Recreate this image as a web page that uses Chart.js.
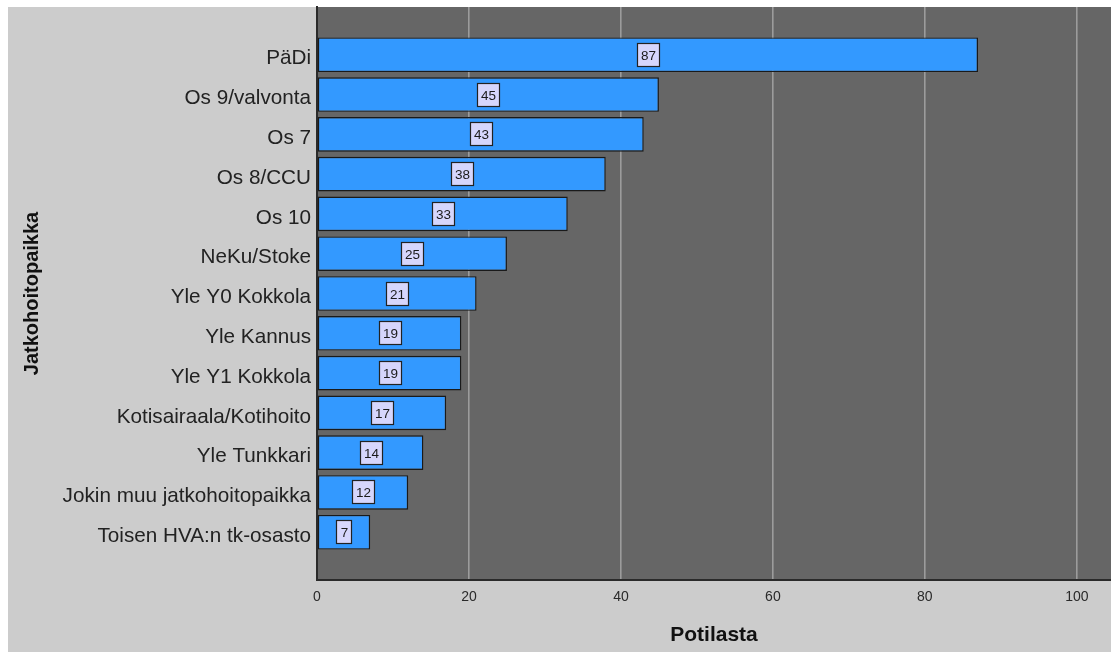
<!DOCTYPE html>
<html>
<head>
<meta charset="utf-8">
<script src="https://cdn.jsdelivr.net/npm/chart.js@4/dist/chart.umd.min.js"></script>
<style>
  html, body { margin: 0; padding: 0; background: #ffffff; }
  #wrap { width: 1111px; height: 652px; position: relative; }
</style>
</head>
<body>
<div id="wrap"><canvas id="c" width="1111" height="652"></canvas></div>
<script>
// Jatkohoitopaikat ja potilasmäärät
const categories = [
  'PäDi', 'Os 9/valvonta', 'Os 7', 'Os 8/CCU', 'Os 10', 'NeKu/Stoke',
  'Yle Y0 Kokkola', 'Yle Kannus', 'Yle Y1 Kokkola', 'Kotisairaala/Kotihoito',
  'Yle Tunkkari', 'Jokin muu jatkohoitopaikka', 'Toisen HVA:n tk-osasto'
];
const patients = [87, 45, 43, 38, 33, 25, 21, 19, 19, 17, 14, 12, 7];
const xTicks = [0, 20, 40, 60, 80, 100];
const xMax = 104.5;
const yTitle = 'Jatkohoitopaikka';
const xTitle = 'Potilasta';

const FONT = '"Liberation Sans", Arial, sans-serif';

// Taustat: harmaa kehys ja tumma piirtoalue
const backgroundPlugin = {
  id: 'backgrounds',
  beforeDraw(chart) {
    const { ctx, chartArea: a } = chart;
    ctx.save();
    ctx.fillStyle = '#ffffff';
    ctx.fillRect(0, 0, chart.width, chart.height);
    ctx.fillStyle = '#cccccc';
    ctx.fillRect(8, 7, chart.width - 8, chart.height - 7);
    ctx.fillStyle = '#666666';
    ctx.fillRect(a.left, a.top, a.right - a.left, a.bottom - a.top);
    ctx.restore();
  }
};

// Arvolaatikot pylväiden keskelle
const valueBoxPlugin = {
  id: 'valueBoxes',
  afterDatasetsDraw(chart) {
    const { ctx } = chart;
    const meta = chart.getDatasetMeta(0);
    ctx.save();
    ctx.font = '13.5px ' + FONT;
    ctx.textAlign = 'center';
    ctx.textBaseline = 'middle';
    meta.data.forEach((bar, i) => {
      const text = String(patients[i]);
      const cx = Math.round((bar.x + bar.base) / 2);
      const cy = Math.round(bar.y);
      const w = Math.round(ctx.measureText(text).width) + 7;
      const h = 23;
      const x0 = cx - Math.round(w / 2) + 0.5;
      const y0 = cy - Math.round(h / 2) + 0.5;
      ctx.fillStyle = '#d6d6fc';
      ctx.fillRect(x0, y0, w, h);
      ctx.strokeStyle = '#222222';
      ctx.lineWidth = 1.2;
      ctx.strokeRect(x0, y0, w, h);
      ctx.fillStyle = '#1a1a1a';
      ctx.fillText(text, cx + 0.5, cy + 1);
    });
    ctx.restore();
  }
};

new Chart(document.getElementById('c'), {
  type: 'bar',
  data: {
    datasets: [{
      data: patients.map((v, i) => ({ x: v, y: i })),
      backgroundColor: '#3399ff',
      borderColor: '#1a1a1a',
      borderWidth: 1.4,
      borderSkipped: false,
      categoryPercentage: 1.0,
      barPercentage: 0.87
    }]
  },
  options: {
    indexAxis: 'y',
    responsive: false,
    animation: false,
    layout: { padding: { left: 8, top: 7, right: 0, bottom: 0 } },
    plugins: { legend: { display: false }, tooltip: { enabled: false } },
    scales: {
      x: {
        type: 'linear',
        min: 0,
        max: xMax,
        offset: false,
        afterBuildTicks(scale) { scale.ticks = xTicks.map(v => ({ value: v })); },
        afterFit(scale) {
          scale.height = 72;
          scale.paddingLeft = 0;
          scale.paddingRight = 0;
        },
        grid: { color: '#9c9c9c', lineWidth: 1.6, drawTicks: false, offset: false },
        border: { display: true, color: '#2a2a2a', width: 2 },
        ticks: {
          padding: 9,
          color: '#2a2a2a',
          font: { family: FONT, size: 14 },
          maxRotation: 0
        },
        title: {
          display: true,
          text: xTitle,
          color: '#111111',
          font: { family: FONT, size: 21, weight: 'bold' },
          padding: { top: 0, bottom: 4 }
        }
      },
      y: {
        type: 'linear',
        reverse: true,
        min: -1.2,
        max: 13.2,
        offset: false,
        afterBuildTicks(scale) { scale.ticks = categories.map((_, i) => ({ value: i })); },
        afterFit(scale) {
          scale.width = 309;
          scale.paddingTop = 0;
          scale.paddingBottom = 0;
        },
        grid: { display: false, drawTicks: false, offset: false },
        border: { display: true, color: '#2a2a2a', width: 2 },
        ticks: {
          autoSkip: false,
          padding: 6,
          labelOffset: 4,
          color: '#222222',
          font: { family: FONT, size: 20.7 },
          callback: (v) => categories[v] ?? ''
        },
        title: {
          display: true,
          text: yTitle,
          color: '#111111',
          font: { family: FONT, size: 20, weight: 'bold' },
          padding: { top: 12, bottom: 0 }
        }
      }
    }
  },
  plugins: [backgroundPlugin, valueBoxPlugin]
});
</script>
</body>
</html>
